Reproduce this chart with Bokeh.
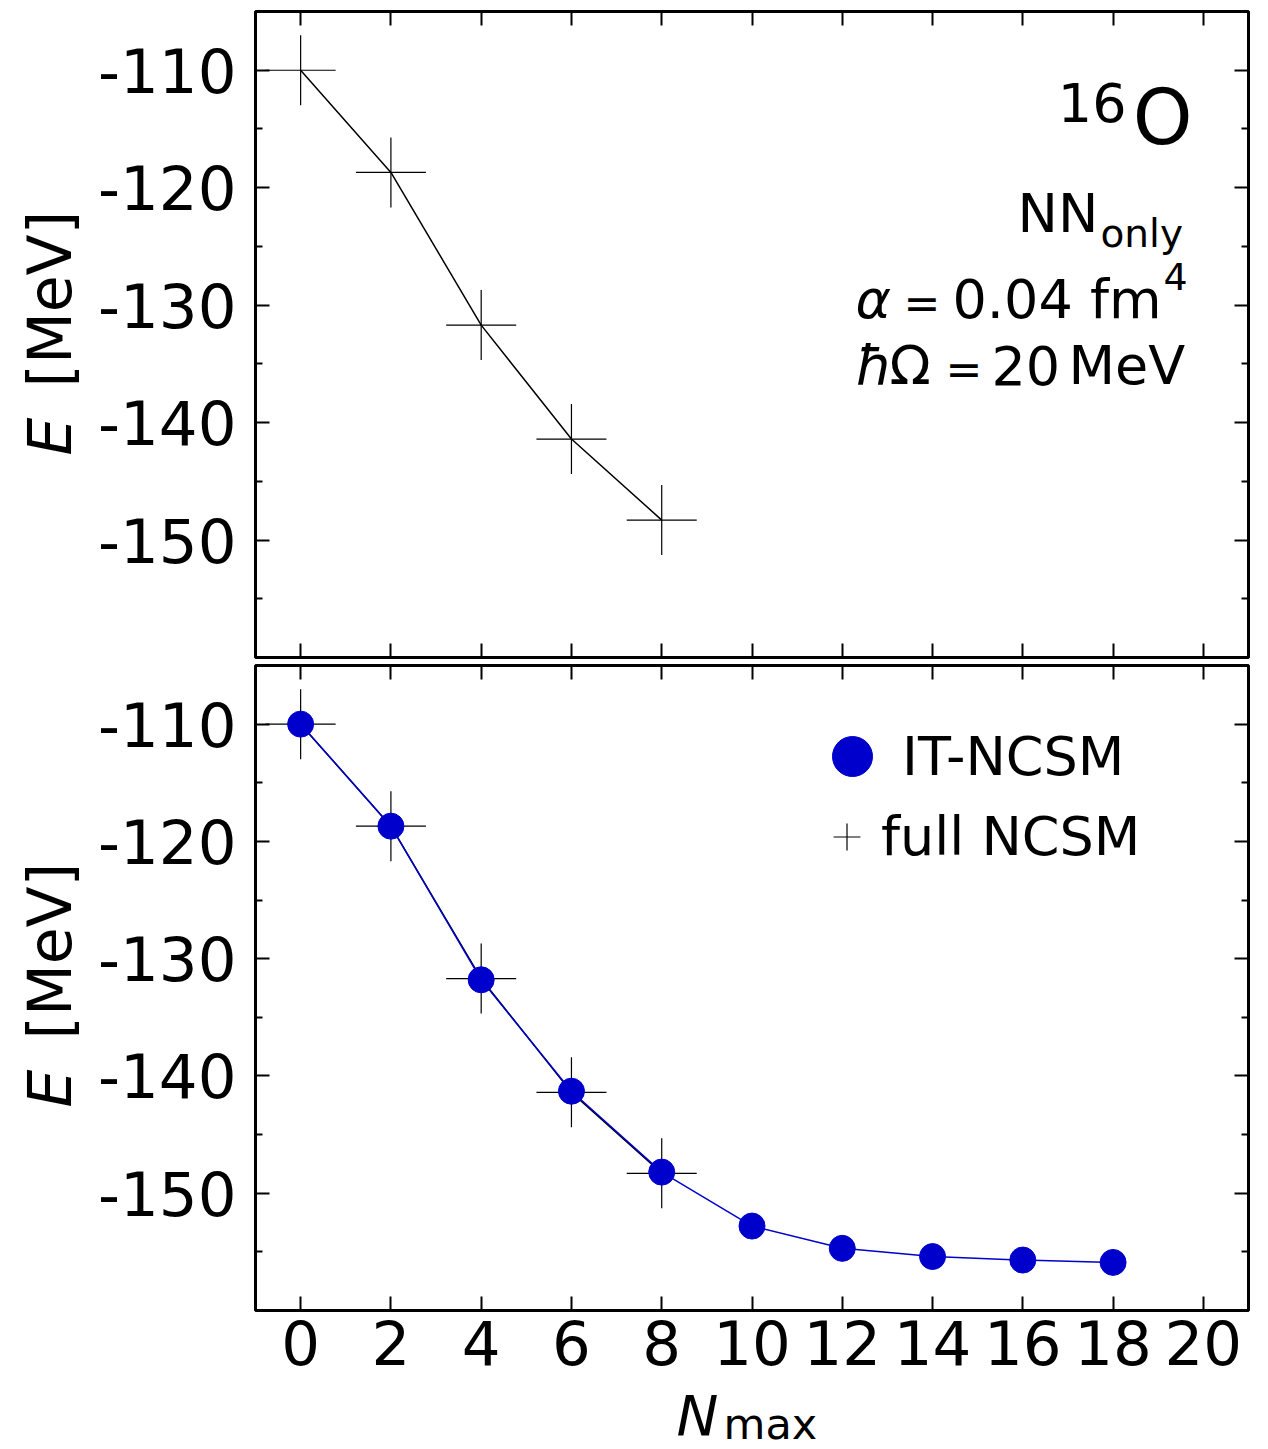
import math
from bokeh.plotting import figure
from bokeh.layouts import column, row
from bokeh.models import (Range1d, LinearAxis, FixedTicker, Label, Legend, LegendItem,
                          CustomLabelingPolicy)
from bokeh.embed import file_html
from bokeh.resources import INLINE

# ---- data ----
nmax_full = [0, 2, 4, 6, 8]
e_full = [-110.0, -118.7, -131.7, -141.4, -148.3]
nmax_it = [0, 2, 4, 6, 8, 10, 12, 14, 16, 18]
e_it = [-110.0, -118.7, -131.8, -141.3, -148.2, -152.8, -154.7, -155.4, -155.7, -155.9]
x_ticks = [0, 2, 4, 6, 8, 10, 12, 14, 16, 18, 20]
y_ticks = [-150, -140, -130, -120, -110]
y_minor = [-155, -145, -135, -125, -115]
legend_labels = ["IT-NCSM", "full NCSM"]

BLUE = "#0000cc"
FONT = "DejaVu Sans"
BL = 0.37  # baseline correction factor (em)

TOTAL_H = 1448
LEFT_W = 95
FRAME_LEFT = 255
P2_BOTTOM = 81


def no_labels():
    return CustomLabelingPolicy(code="""
        for (let i = 0; i < indices.size; i++) { indices.unset(i) }
        return indices
    """)


def style_axis(ax, labels, ticker):
    ax.ticker = ticker
    ax.axis_line_color = None
    ax.major_tick_in = 14
    ax.major_tick_out = 0
    ax.minor_tick_in = 7
    ax.minor_tick_out = 0
    ax.major_tick_line_width = 2
    ax.minor_tick_line_width = 2
    ax.major_tick_line_color = "black"
    ax.minor_tick_line_color = "black"
    ax.axis_label = None
    if labels:
        ax.major_label_text_font = FONT
        ax.major_label_text_font_size = "61px"
        ax.major_label_text_color = "black"
    else:
        ax.major_label_text_font_size = "1px"
        ax.major_label_standoff = 0
        ax.major_label_policy = no_labels()


def make_fig(frame_h, btop, bbottom, xlabels):
    p = figure(frame_width=993, frame_height=frame_h,
               x_range=Range1d(-1, 21), y_range=Range1d(-160, -105),
               output_backend="svg", toolbar_location=None,
               min_border_left=160, min_border_right=12,
               min_border_top=btop, min_border_bottom=bbottom)
    p.xgrid.visible = False
    p.ygrid.visible = False
    p.outline_line_color = "black"
    p.outline_line_width = 3
    p.outline_line_alpha = 1.0
    p.background_fill_color = "white"
    p.border_fill_color = "white"
    xa = p.xaxis[0]
    ya = p.yaxis[0]
    style_axis(xa, xlabels, FixedTicker(ticks=x_ticks, minor_ticks=[]))
    style_axis(ya, True, FixedTicker(ticks=y_ticks, minor_ticks=y_minor))
    if xlabels:
        xa.major_label_overrides = {t: str(t) for t in x_ticks}
        xa.major_label_standoff = 9
    ya.major_label_overrides = {t: str(t) for t in y_ticks}
    ya.major_label_standoff = 19
    top = LinearAxis()
    style_axis(top, False, FixedTicker(ticks=x_ticks, minor_ticks=[]))
    p.add_layout(top, "above")
    right = LinearAxis()
    style_axis(right, False, FixedTicker(ticks=y_ticks, minor_ticks=y_minor))
    p.add_layout(right, "right")
    return p


def blank_fig(w, h):
    f = figure(width=w, height=h, x_axis_location=None, y_axis_location=None,
               output_backend="svg", toolbar_location=None, min_border=0,
               x_range=Range1d(0, 1), y_range=Range1d(0, 1))
    f.xgrid.visible = False
    f.ygrid.visible = False
    f.outline_line_color = None
    f.background_fill_color = "white"
    f.border_fill_color = "white"
    return f


def lab(p, x, y, text, size, italic=False, align="left", angle=0.0, lh=1.2, bl=BL):
    if angle == 0.0:
        y = y + bl * size
    else:
        x = x - bl * size
    p.add_layout(Label(x=x, y=y, x_units="screen", y_units="screen", text=text,
                       text_font=FONT, text_font_size=f"{size}px",
                       text_font_style="italic" if italic else "normal",
                       text_color="black", text_align=align,
                       text_baseline="alphabetic", angle=angle,
                       text_line_height=lh))


# ---- top panel ----
p1 = make_fig(646, 11, 3, False)
p1.line(nmax_full, e_full, line_color="black", line_width=1.5)
p1.scatter(nmax_full, e_full, marker="cross", size=70, line_color="black", line_width=1.2)

lab(p1, 871, 535, "16", 54, align="right")
lab(p1, 937, 512, "O", 76, align="right")
lab(p1, 762, 424, "NN", 54)
lab(p1, 845, 410, "only", 39)
lab(p1, 600, 338, "α", 54, italic=True)
lab(p1, 648, 338, "=", 44)
lab(p1, 697, 338, "0.04 fm", 54)
lab(p1, 908, 367, "4", 38)
lab(p1, 600, 272, "ħ", 54, italic=True)
lab(p1, 634, 272, "Ω", 54)
lab(p1, 690, 272, "=", 44)
lab(p1, 736, 272, "20", 54)
lab(p1, 813, 272, "MeV", 54)

# ---- bottom panel ----
p2 = make_fig(645, 4, P2_BOTTOM, True)
p2.line(nmax_full, e_full, line_color="black", line_width=1.5)
r_cross = p2.scatter(nmax_full, e_full, marker="cross", size=70, line_color="black", line_width=1.2)
p2.line(nmax_it, e_it, line_color=BLUE, line_width=1.5)
r_circ = p2.scatter(nmax_it, e_it, marker="circle", size=26, fill_color=BLUE, line_color=BLUE)

leg1 = Legend(items=[LegendItem(label=legend_labels[0], renderers=[r_circ])],
              location=(547, 504), glyph_width=100, glyph_height=100,
              label_standoff=-29, padding=0, margin=0, spacing=0,
              border_line_color=None, background_fill_alpha=0,
              label_text_font=FONT, label_text_font_size="54px",
              label_text_color="black")
leg2 = Legend(items=[LegendItem(label=legend_labels[1], renderers=[r_cross])],
              location=(558, 440), glyph_width=67, glyph_height=67,
              label_standoff=1, padding=0, margin=0, spacing=0,
              border_line_color=None, background_fill_alpha=0,
              label_text_font=FONT, label_text_font_size="54px",
              label_text_color="black")
p2.add_layout(leg1)
p2.add_layout(leg2)

# ---- axis titles (own small canvases) ----
p2_w = 160 + 993 + 12
top_of_xlab = (11 + 646 + 3) + (4 + 645 + P2_BOTTOM)
bottom_h = TOTAL_H - top_of_xlab
xlab = blank_fig(p2_w, bottom_h)
lab(xlab, 676 - FRAME_LEFT, TOTAL_H - 1435, "N", 56, italic=True, lh=1.0)
lab(xlab, 723 - FRAME_LEFT, TOTAL_H - 1438, "max", 43, lh=1.0)

ylab = blank_fig(LEFT_W, TOTAL_H)
for shift in (0, 652):
    lab(ylab, 72, TOTAL_H - (455 + shift), "E", 60, italic=True, angle=math.pi / 2)
    lab(ylab, 72, TOTAL_H - (387 + shift), "[MeV]", 60, angle=math.pi / 2)

layout = row(ylab, column(p1, p2, xlab, spacing=0), spacing=0)
open("out.html", "w").write(file_html(layout, INLINE))
